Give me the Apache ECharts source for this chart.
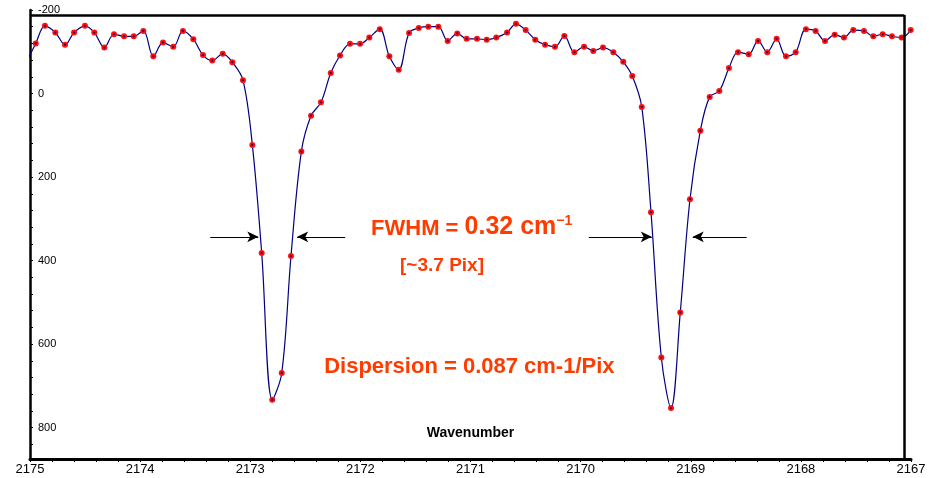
<!DOCTYPE html>
<html>
<head>
<meta charset="utf-8">
<script src="https://cdn.jsdelivr.net/npm/echarts@6/dist/echarts.min.js"></script>
<style>
  html, body { margin: 0; padding: 0; background: #ffffff; }
  #chart { width: 929px; height: 478px; }
</style>
</head>
<body>
<div id="chart"></div>
<script>
// Wavenumber of each detector pixel (cm-1); dispersion varies slightly across the array
const wavenumber = [
  2175.036, 2174.948, 2174.864, 2174.770, 2174.682, 2174.600, 2174.501, 2174.416, 2174.325, 2174.237,
  2174.146, 2174.058, 2173.971, 2173.880, 2173.792, 2173.699, 2173.611, 2173.517, 2173.429, 2173.345,
  2173.250, 2173.163, 2173.066, 2172.981, 2172.896, 2172.800, 2172.714, 2172.630, 2172.536, 2172.448,
  2172.358, 2172.269, 2172.185, 2172.094, 2172.003, 2171.919, 2171.824, 2171.737, 2171.652, 2171.558,
  2171.470, 2171.383, 2171.292, 2171.207, 2171.120, 2171.035, 2170.941, 2170.853, 2170.766, 2170.668,
  2170.587, 2170.499, 2170.412, 2170.323, 2170.233, 2170.148, 2170.057, 2169.969, 2169.885, 2169.797,
  2169.703, 2169.613, 2169.531, 2169.445, 2169.361, 2169.267, 2169.179, 2169.095, 2169.007, 2168.913,
  2168.828, 2168.741, 2168.653, 2168.571, 2168.474, 2168.389, 2168.305, 2168.220, 2168.135, 2168.047,
  2167.954, 2167.866, 2167.781, 2167.693, 2167.609, 2167.524, 2167.427, 2167.342, 2167.257, 2167.173,
  2167.085, 2167.003
];

// Measured signal per pixel
const intensity = [
  -73, -120, -162, -146, -117, -146, -162, -146, -110, -142,
  -137, -137, -150, -89, -122, -112, -150, -130, -92, -79,
  -95, -75, -32, 123, 382, 733, 669, 389, 139, 53,
  21, -49, -91, -119, -119, -134, -154, -89, -57, -145,
  -157, -160, -160, -126, -144, -131, -131, -129, -134, -146,
  -167, -152, -129, -117, -112, -138, -99, -112, -102, -110,
  -99, -76, -42, 32, 284, 632, 753, 524, 253, 89,
  8, -6, -61, -99, -94, -126, -99, -131, -89, -99,
  -154, -150, -126, -141, -134, -152, -150, -137, -142, -137,
  -134, -152
];

// Axis ranges and tick spacing
const xRange = [2167, 2175];
const xMinorStep = 0.2;
const yRange = [-200, 875];
const yMinorStep = 40;
const yLabelStep = 200;

// Half-maximum markers: [tail, head] wavenumbers at the half-height level
const halfHeightLevel = 343;
const fwhmArrows = [
  [2173.363, 2172.927],
  [2172.138, 2172.574],
  [2169.925, 2169.354],
  [2168.492, 2168.982]
];

// Plot-area border (top edge level and right edge wavenumber)
const frameTop = -188;
const frameRight = 2167.06;

const red = '#FF3C00';
const font = "'Liberation Sans', Arial, sans-serif";

const points = intensity.map((v, i) => [wavenumber[i], v]);

const isMultiple = (v, step) => Math.abs(v / step - Math.round(v / step)) < 1e-6;

const arrowLines = fwhmArrows.map(([tail, head]) => [
  { coord: [tail, halfHeightLevel], symbol: 'none' },
  { coord: [head, halfHeightLevel], symbol: 'arrow' }
]);
const frameLines = [
  [
    { coord: [xRange[1], frameTop], symbol: 'none', lineStyle: { width: 2.5, color: '#000' } },
    { coord: [frameRight, frameTop], symbol: 'none' }
  ],
  [
    { coord: [frameRight, frameTop], symbol: 'none', lineStyle: { width: 2.5, color: '#000' } },
    { coord: [frameRight, yRange[1]], symbol: 'none' }
  ]
];

const chart = echarts.init(document.getElementById('chart'), null, { renderer: 'canvas' });

chart.setOption({
  animation: false,
  backgroundColor: '#ffffff',
  grid: { left: 30, right: 18, top: 10, bottom: 19, containLabel: false, outerBoundsMode: 'none' },
  xAxis: {
    type: 'value',
    inverse: true,
    min: xRange[0],
    max: xRange[1],
    interval: xMinorStep,
    name: 'Wavenumber',
    nameLocation: 'middle',
    nameGap: -26,
    nameTextStyle: {
      fontFamily: font, fontSize: 14, fontWeight: 'bold', color: '#000',
      verticalAlign: 'middle'
    },
    axisLine: { onZero: false, lineStyle: { color: '#000', width: 3 } },
    axisTick: { show: true, inside: false, length: 3, lineStyle: { color: '#000', width: 1 } },
    axisLabel: {
      fontFamily: font, fontSize: 13, color: '#000', margin: 4,
      showMinLabel: true, showMaxLabel: true,
      formatter: v => (isMultiple(v, 1) ? String(Math.round(v)) : '')
    },
    splitLine: { show: false }
  },
  yAxis: {
    type: 'value',
    inverse: true,
    min: yRange[0],
    max: yRange[1],
    interval: yMinorStep,
    axisLine: { onZero: false, lineStyle: { color: '#000', width: 2.5 } },
    axisTick: { show: true, inside: true, length: 3, lineStyle: { color: '#000', width: 1 } },
    axisLabel: {
      inside: true, margin: 8, align: 'left',
      fontFamily: font, fontSize: 11, color: '#000',
      formatter: v => (isMultiple(v, yLabelStep) ? String(Math.round(v)) : '')
    },
    splitLine: { show: false }
  },
  series: [
    {
      name: 'spectrum',
      type: 'line',
      data: points,
      smooth: 0.35,
      clip: true,
      lineStyle: { color: '#000080', width: 1.2 },
      symbol: 'circle',
      symbolSize: 6,
      itemStyle: { color: '#FF1010', borderWidth: 0 },
      z: 3
    },
    {
      name: 'spectrum-centres',
      type: 'scatter',
      data: points,
      clip: true,
      symbol: 'circle',
      symbolSize: 2.2,
      itemStyle: { color: '#000060' },
      silent: true,
      z: 4
    },
    {
      name: 'annotations',
      type: 'line',
      data: [],
      silent: true,
      markLine: {
        silent: true,
        symbolSize: [8, 11],
        label: { show: false },
        lineStyle: { color: '#000', width: 1, type: 'solid' },
        data: arrowLines.concat(frameLines)
      },
      markPoint: {
        silent: true,
        symbol: 'circle',
        symbolSize: 0,
        data: [
          {
            coord: [2171.903, 319],
            label: {
              show: true, position: 'right', distance: 0,
              formatter: '{a|FWHM = }{b|0.32 cm}{s|\u22121}',
              rich: {
                a: { fontFamily: font, fontSize: 22, fontWeight: 'bold', color: red, lineHeight: 26, verticalAlign: 'bottom' },
                b: { fontFamily: font, fontSize: 25, fontWeight: 'bold', color: red, lineHeight: 26, verticalAlign: 'bottom' },
                s: { fontFamily: font, fontSize: 14, fontWeight: 'bold', color: red, lineHeight: 14, verticalAlign: 'top' }
              }
            }
          },
          {
            coord: [2171.64, 413],
            label: {
              show: true, position: 'right', distance: 0,
              formatter: '[~3.7 Pix]',
              fontFamily: font, fontSize: 19, fontWeight: 'bold', color: red
            }
          },
          {
            coord: [2172.329, 654],
            label: {
              show: true, position: 'right', distance: 0,
              formatter: 'Dispersion = 0.087 cm-1/Pix',
              fontFamily: font, fontSize: 22, fontWeight: 'bold', color: red
            }
          }
        ]
      },
      z: 5
    }
  ]
});
</script>
</body>
</html>
